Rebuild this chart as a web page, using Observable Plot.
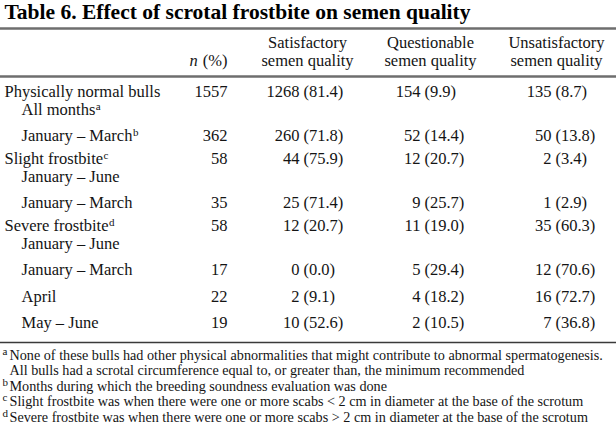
<!DOCTYPE html>
<html><head><meta charset="utf-8">
<script src="https://cdn.jsdelivr.net/npm/d3@7"></script>
<script src="https://cdn.jsdelivr.net/npm/@observablehq/plot@0.6"></script>
<style>html,body{margin:0;padding:0;background:#fff;} #chart svg{display:block;}
g[aria-label="footnotes"] text{letter-spacing:0.25px;}</style>
</head><body><div id="chart"></div>
<script>
// ---------- data ----------
const title = "Table 6. Effect of scrotal frostbite on semen quality";
const headerTop = ["Satisfactory", "Questionable", "Unsatisfactory"];
const headerBottom = ["semen quality", "semen quality", "semen quality"];
const nHeaderItalic = "n";
const nHeaderRest = "(%)";

const rowLabels = ["Physically normal bulls", "All months", "January – March", "Slight frostbite",
  "January – June", "January – March", "Severe frostbite", "January – June", "January – March", "April", "May – June"];
const rowLevel = [0, 1, 1, 0, 1, 1, 0, 1, 1, 1, 1];
const rowSup = ["", "a", "b", "c", "", "", "d", "", "", "", ""];
const nValues = [1557, null, 362, 58, null, 35, 58, null, 17, 22, 19];
const satCount = [1268, null, 260, 44, null, 25, 12, null, 0, 2, 10];
const satPct = ["81.4", null, "71.8", "75.9", null, "71.4", "20.7", null, "0.0", "9.1", "52.6"];
const queCount = [154, null, 52, 12, null, 9, 11, null, 5, 4, 2];
const quePct = ["9.9", null, "14.4", "20.7", null, "25.7", "19.0", null, "29.4", "18.2", "10.5"];
const unsCount = [135, null, 50, 2, null, 1, 35, null, 12, 16, 7];
const unsPct = ["8.7", null, "13.8", "3.4", null, "2.9", "60.3", null, "70.6", "72.7", "36.8"];

const footSup = ["a", "", "b", "c", "d"];
const footText = [
  "None of these bulls had other physical abnormalities that might contribute to abnormal spermatogenesis.",
  "All bulls had a scrotal circumference equal to, or greater than, the minimum recommended",
  "Months during which the breeding soundness evaluation was done",
  "Slight frostbite was when there were one or more scabs < 2 cm in diameter at the base of the scrotum",
  "Severe frostbite was when there were one or more scabs > 2 cm in diameter at the base of the scrotum"
];

// ---------- layout ----------
const LY = {
  W: 616, H: 426, font: "Liberation Serif",
  titleY: 18, titleSize: 21.5,
  rule1: 28, head1Y: 47, head2Y: 65, rule2: 76,
  bodyY0: 96, lineStep: 18, rowStep: 26.5, groupStep: 22.5, rule3: 342,
  footY0: 359, footStep: 15.5, footSize: 14.2, footX: 9, footSupX: 2, footSupRaise: 5,
  bodySize: 16.5, supSize: 11, supRaise: 5,
  labelX: 4, indent: 17, nRight: 227, parenX: [303, 424, 555], headCenter: [307, 430, 556], gap: 4
};

const ctx = document.createElement("canvas").getContext("2d");
function tw(s, size) {
  ctx.font = `${size}px "${LY.font}"`;
  return ctx.measureText(s).width;
}

// line baselines derived from the row structure (continuation lines carry no n)
const lineY = [];
rowLabels.forEach((_, i) => {
  const step = nValues[i] == null ? LY.lineStep : (rowLevel[i] === 0 ? LY.groupStep : LY.rowStep);
  lineY.push(i === 0 ? LY.bodyY0 : lineY[i - 1] + step);
});

const startCells = [], endCells = [], midCells = [], supCells = [], footCells = [];
const titleCell = [{x: LY.labelX, y: LY.titleY, text: title}];
headerTop.forEach((t, j) => midCells.push({x: LY.headCenter[j], y: LY.head1Y, text: t}));
headerBottom.forEach((t, j) => midCells.push({x: LY.headCenter[j], y: LY.head2Y, text: t}));
endCells.push({x: LY.nRight, y: LY.head2Y, text: nHeaderRest});
const nItalic = [{x: LY.nRight - tw(nHeaderRest, LY.bodySize) - LY.gap - 1, y: LY.head2Y, text: nHeaderItalic}];

rowLabels.forEach((lab, i) => {
  const x = LY.labelX + rowLevel[i] * LY.indent;
  startCells.push({x, y: lineY[i], text: lab});
  if (rowSup[i]) supCells.push({x: x + tw(lab, LY.bodySize) + 0.5, y: lineY[i] - LY.supRaise, text: rowSup[i], size: LY.supSize});
  if (nValues[i] != null) {
    endCells.push({x: LY.nRight, y: lineY[i], text: String(nValues[i])});
    [[satCount, satPct], [queCount, quePct], [unsCount, unsPct]].forEach(([c, p], j) => {
      endCells.push({x: LY.parenX[j] - LY.gap, y: lineY[i], text: String(c[i])});
      startCells.push({x: LY.parenX[j], y: lineY[i], text: `(${p[i]})`});
    });
  }
});
footText.forEach((t, k) => {
  const y = LY.footY0 + k * LY.footStep;
  footCells.push({x: LY.footX, y, text: t});
  if (footSup[k]) supCells.push({x: LY.footSupX, y: y - LY.footSupRaise, text: footSup[k], size: LY.supSize});
});

const rulesThick = [LY.rule1, LY.rule2];
const rulesThin = [LY.rule3];

const ink = "#141414";
const common = {x: "x", y: "y", text: "text", lineAnchor: "bottom", fill: ink, fontFamily: LY.font};
const chart = Plot.plot({
  width: LY.W, height: LY.H,
  marginTop: 0, marginRight: 0, marginBottom: 0, marginLeft: 0,
  x: {domain: [0, LY.W], range: [0, LY.W], axis: null},
  y: {domain: [0, LY.H], range: [0, LY.H], axis: null},
  style: {fontFamily: LY.font, background: "#fff"},
  marks: [
    Plot.ruleY(rulesThick, {y: d => d, x1: 0, x2: LY.W, stroke: "#6e6e6e", strokeWidth: 2.5}),
    Plot.ruleY(rulesThin, {y: d => d, x1: 0, x2: LY.W, stroke: "#3a3a3a", strokeWidth: 1.5}),
    Plot.text(titleCell, {...common, textAnchor: "start", fontSize: LY.titleSize, fontWeight: "bold", fill: "#000"}),
    Plot.text(startCells, {...common, textAnchor: "start", fontSize: LY.bodySize}),
    Plot.text(endCells, {...common, textAnchor: "end", fontSize: LY.bodySize}),
    Plot.text(midCells, {...common, textAnchor: "middle", fontSize: LY.bodySize}),
    Plot.text(nItalic, {...common, textAnchor: "end", fontSize: LY.bodySize, fontStyle: "italic"}),
    Plot.text(footCells, {...common, textAnchor: "start", fontSize: LY.footSize, ariaLabel: "footnotes"}),
    Plot.text(supCells, {...common, textAnchor: "start", fontSize: "size"})
  ]
});
document.getElementById("chart").appendChild(chart);
</script>
</body></html>
